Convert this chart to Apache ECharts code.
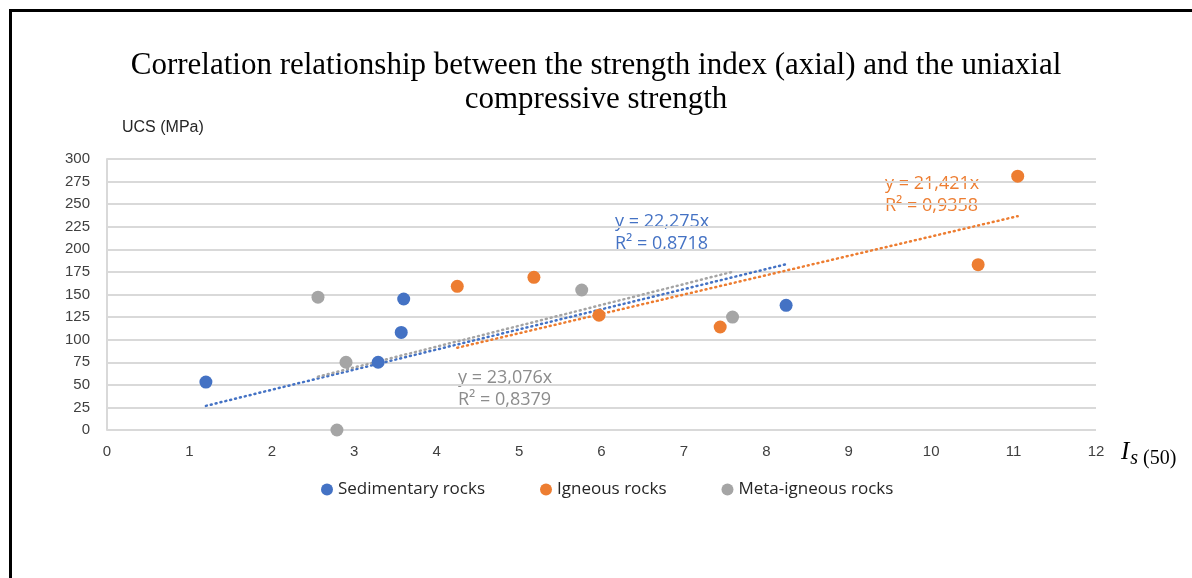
<!DOCTYPE html>
<html>
<head>
<meta charset="utf-8">
<script src="https://cdn.jsdelivr.net/npm/echarts@6/dist/echarts.min.js"></script>
<style>
  html, body { margin: 0; padding: 0; background: #fff; }
  #chart { width: 1192px; height: 578px; }
</style>
</head>
<body>
<div id="chart"></div>
<script>
  // rock groups
  const groupNames = ['Sedimentary rocks', 'Igneous rocks', 'Meta-igneous rocks'];
  const groupColors = ['#4472C4', '#ED7D31', '#A5A5A5'];

  // Is(50) values and UCS (MPa)
  const sedIs = [1.2, 3.29, 3.57, 3.6, 8.24];
  const sedUcs = [53, 75, 108, 145, 138];
  const ignIs = [4.25, 5.18, 5.97, 7.44, 10.57, 11.05];
  const ignUcs = [159, 169, 127, 114, 183, 281];
  const metIs = [2.56, 2.9, 2.79, 5.76, 7.59];
  const metUcs = [147, 75, 0, 155, 125];

  // linear trend through origin (from the chart's equations)
  const slopes = [22.275, 21.421, 23.076];
  const eqTexts = [
    ['y = 22,275x', 'R² = 0,8718'],
    ['y = 21,421x', 'R² = 0,9358'],
    ['y = 23,076x', 'R² = 0,8379']
  ];

  const xTicks = [0, 12, 1];
  const yTicks = [0, 300, 25];

  const groupsIs = [sedIs, ignIs, metIs];
  const groupsUcs = [sedUcs, ignUcs, metUcs];

  const myChart = echarts.init(document.getElementById('chart'));

  const series = [];
  groupNames.forEach((name, i) => {
    series.push({
      name: name,
      type: 'scatter',
      symbolSize: 13,
      itemStyle: { color: groupColors[i], opacity: 1 },
      data: groupsIs[i].map((x, k) => [x, groupsUcs[i][k]]),
      z: 3
    });
  });
  groupNames.forEach((name, i) => {
    const lo = Math.min(...groupsIs[i]);
    const hi = Math.max(...groupsIs[i]);
    series.push({
      name: name + ' trend',
      type: 'line',
      symbol: 'none',
      silent: true,
      lineStyle: { color: groupColors[i], width: 2.5, type: [1, 4], cap: 'round' },
      data: [[lo, slopes[i] * lo], [hi, slopes[i] * hi]],
      z: 2
    });
  });

  const eqStyle = (c) => ({ fill: c, font: '18px "Open Sans", sans-serif', lineHeight: 22 });

  const option = {
    animation: false,
    textStyle: { fontFamily: '"Liberation Sans", sans-serif' },
    title: {
      text: 'Correlation relationship between the strength index (axial) and the uniaxial\ncompressive strength',
      left: 'center',
      top: 44,
      textStyle: {
        fontFamily: '"Liberation Serif", serif',
        fontSize: 31,
        fontWeight: 'normal',
        color: '#000',
        lineHeight: 34
      }
    },
    legend: {
      data: groupNames,
      top: 476,
      left: 316,
      icon: 'circle',
      itemWidth: 12,
      itemHeight: 12,
      itemGap: 55,
      textStyle: { fontSize: 17, color: '#262626', fontFamily: '"Open Sans", sans-serif' }
    },
    grid: { left: 107, right: 96, top: 159, bottom: 148 },
    xAxis: {
      type: 'value',
      min: xTicks[0],
      max: xTicks[1],
      interval: xTicks[2],
      axisLine: { show: false },
      axisTick: { show: false },
      splitLine: { show: false },
      axisLabel: { fontSize: 15, color: '#404040', margin: 14 }
    },
    yAxis: {
      type: 'value',
      min: yTicks[0],
      max: yTicks[1],
      interval: yTicks[2],
      axisLine: { show: true, lineStyle: { color: '#d9d9d9', width: 2 } },
      axisTick: { show: false },
      splitLine: { lineStyle: { color: '#d9d9d9', width: 2 } },
      axisLabel: { fontSize: 15, color: '#404040', margin: 17 }
    },
    graphic: [
      { type: 'rect', shape: { x: 9, y: 9, width: 1200, height: 3 }, style: { fill: '#000' } },
      { type: 'rect', shape: { x: 9, y: 9, width: 3, height: 600 }, style: { fill: '#000' } },
      { type: 'text', left: 122, top: 120, style: { text: 'UCS (MPa)', fill: '#262626', font: '16px "Liberation Sans", sans-serif' } },
      {
        type: 'text', left: 1121, top: 440,
        style: {
          text: '{i|I}{s|s}{n| (50)}',
          rich: {
            i: { fontFamily: '"Liberation Serif", serif', fontStyle: 'italic', fontSize: 25, fill: '#000' },
            s: { fontFamily: '"Liberation Serif", serif', fontStyle: 'italic', fontSize: 20, fill: '#000', padding: [12, 0, 0, 1] },
            n: { fontFamily: '"Liberation Serif", serif', fontSize: 20, fill: '#000', padding: [12, 0, 0, 0] }
          }
        }
      },
      { type: 'text', left: 615, top: 211, style: Object.assign({ text: eqTexts[0].join('\n') }, eqStyle('#4472C4')) },
      { type: 'text', left: 885, top: 173, style: Object.assign({ text: eqTexts[1].join('\n') }, eqStyle('#ED7D31')) },
      { type: 'text', left: 458, top: 367, style: Object.assign({ text: eqTexts[2].join('\n') }, eqStyle('#8c8c8c')) }
    ],
    series: series
  };
  myChart.setOption(option);
</script>
</body>
</html>
